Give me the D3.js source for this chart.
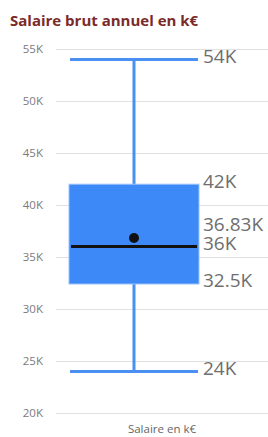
<!DOCTYPE html>
<html>
<head>
<meta charset="utf-8">
<script src="https://cdn.jsdelivr.net/npm/d3@7"></script>
<style>
  body { margin: 0; background: #fff; }
  svg { display: block; }
</style>
</head>
<body>
<svg id="chart" width="268" height="437"></svg>
<script>
// data (k€)
var categories = ["Salaire en k€"];
var minVals = [24];
var q1Vals = [32.5];
var medianVals = [36];
var meanVals = [36.83];
var q3Vals = [42];
var maxVals = [54];
var yTicks = [20, 25, 30, 35, 40, 45, 50, 55];

var W = 268, H = 437;
var svg = d3.select("#chart");

var y = d3.scaleLinear().domain([20, 55]).range([413, 49]);
var x = d3.scaleBand().domain(categories).range([56, 212]).paddingInner(0).paddingOuter(0.1);

svg.append("text")
    .attr("x", 10).attr("y", 26)
    .style("font-family", "'Open Sans', sans-serif")
    .style("font-weight", "bold")
    .style("font-size", "15px")
    .style("fill", "#7b2a2a")
    .text("Salaire brut annuel en k€");

// gridlines + tick labels
var yAxis = d3.axisLeft(y).tickValues(yTicks)
    .tickFormat(function(d) { return d + "K"; })
    .tickSize(-(W - 56)).tickPadding(13);

var gy = svg.append("g").attr("transform", "translate(56,0)").call(yAxis);
gy.select(".domain").remove();
gy.selectAll("line").style("stroke", "#e1e1e1").style("stroke-width", 1);
gy.selectAll("text")
    .style("font-family", "'Open Sans', sans-serif")
    .style("font-size", "11.5px")
    .style("fill", "#7a7a7a");

svg.append("text")
    .attr("x", (56 + W) / 2).attr("y", 433)
    .attr("text-anchor", "middle")
    .style("font-family", "'Open Sans', sans-serif")
    .style("font-size", "11.5px")
    .style("fill", "#666")
    .text("Salaire en k€");

var blue = "#4a8ff2";

categories.forEach(function(c, i) {
    var x0 = x(c), bw = x.bandwidth(), cx = x0 + bw / 2;
    var g = svg.append("g");

    // whisker stem
    g.append("line")
        .attr("x1", cx).attr("x2", cx)
        .attr("y1", y(maxVals[i])).attr("y2", y(minVals[i]))
        .style("stroke", blue).style("stroke-width", 3);

    // caps
    [minVals[i], maxVals[i]].forEach(function(v) {
        g.append("line")
            .attr("x1", x0 + 1).attr("x2", x0 + bw - 1)
            .attr("y1", y(v)).attr("y2", y(v))
            .style("stroke", blue).style("stroke-width", 3);
    });

    // box
    g.append("rect")
        .attr("x", x0).attr("y", y(q3Vals[i]))
        .attr("width", bw).attr("height", y(q1Vals[i]) - y(q3Vals[i]) + 1)
        .style("fill", "#3d89f7")
        .style("stroke", "#9cc2fa").style("stroke-width", 1);

    // median
    g.append("line")
        .attr("x1", x0 + 2).attr("x2", x0 + bw - 2)
        .attr("y1", y(medianVals[i])).attr("y2", y(medianVals[i]))
        .style("stroke", "#111").style("stroke-width", 3);

    // mean
    g.append("circle")
        .attr("cx", cx).attr("cy", y(meanVals[i])).attr("r", 5)
        .style("fill", "#111");

    // data labels, pushed apart bottom-up
    var labels = [
        { v: minVals[i], t: "24K" },
        { v: q1Vals[i], t: "32.5K" },
        { v: medianVals[i], t: "36K" },
        { v: meanVals[i], t: "36.83K" },
        { v: q3Vals[i], t: "42K" },
        { v: maxVals[i], t: "54K" }
    ];
    var prev = Infinity;
    labels.forEach(function(l) {
        l.y = Math.min(y(l.v) - 3, prev - 19);
        prev = l.y;
    });

    g.selectAll("text.lbl")
        .data(labels)
        .enter().append("text")
        .attr("class", "lbl")
        .attr("x", x0 + bw + 4)
        .attr("y", function(d) { return d.y; })
        .attr("dy", "0.35em")
        .style("font-family", "'Open Sans', sans-serif")
        .style("font-size", "19px")
        .style("fill", "#6e6e6e")
        .text(function(d) { return d.t; });
});
</script>
</body>
</html>
